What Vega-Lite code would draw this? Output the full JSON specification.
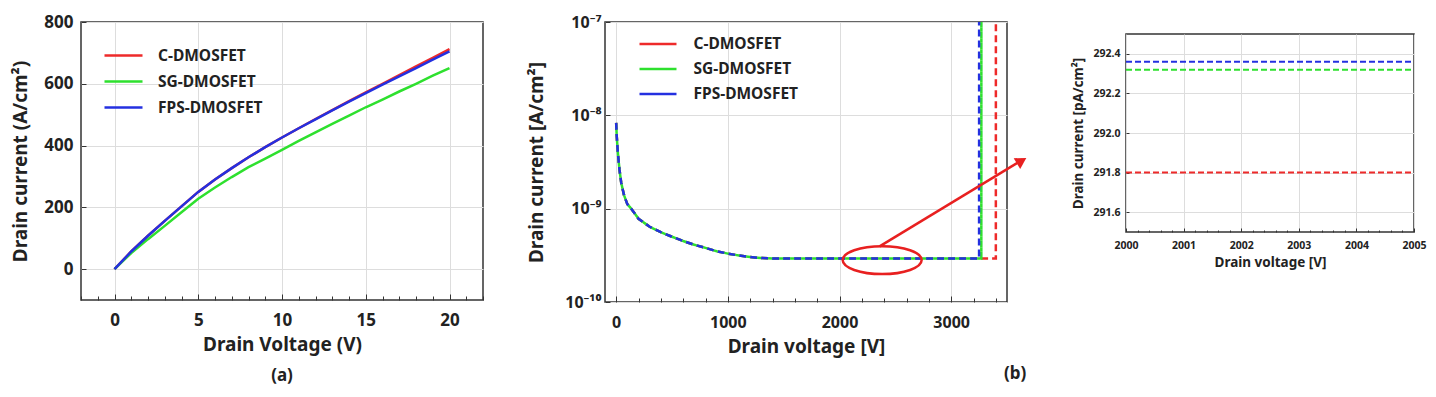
{
  "$schema": "https://vega.github.io/schema/vega-lite/v6.json",
  "padding": {"left": 11, "top": 12, "right": 5, "bottom": 5},
  "background": "white",
  "datasets": {
    "a": [
      {"series": "C-DMOSFET", "V": 0, "I": 0}, {"series": "C-DMOSFET", "V": 1, "I": 57}, {"series": "C-DMOSFET", "V": 2, "I": 108}, {"series": "C-DMOSFET", "V": 3, "I": 156}, {"series": "C-DMOSFET", "V": 4, "I": 203}, {"series": "C-DMOSFET", "V": 5, "I": 250}, {"series": "C-DMOSFET", "V": 6, "I": 290}, {"series": "C-DMOSFET", "V": 7, "I": 327}, {"series": "C-DMOSFET", "V": 8, "I": 362}, {"series": "C-DMOSFET", "V": 9, "I": 395}, {"series": "C-DMOSFET", "V": 10, "I": 426}, {"series": "C-DMOSFET", "V": 11, "I": 456}, {"series": "C-DMOSFET", "V": 12, "I": 486}, {"series": "C-DMOSFET", "V": 13, "I": 515}, {"series": "C-DMOSFET", "V": 14, "I": 544}, {"series": "C-DMOSFET", "V": 15, "I": 572}, {"series": "C-DMOSFET", "V": 16, "I": 600}, {"series": "C-DMOSFET", "V": 17, "I": 628}, {"series": "C-DMOSFET", "V": 18, "I": 656}, {"series": "C-DMOSFET", "V": 19, "I": 684}, {"series": "C-DMOSFET", "V": 20, "I": 712},
      {"series": "SG-DMOSFET", "V": 0, "I": 0}, {"series": "SG-DMOSFET", "V": 1, "I": 52}, {"series": "SG-DMOSFET", "V": 2, "I": 97}, {"series": "SG-DMOSFET", "V": 3, "I": 140}, {"series": "SG-DMOSFET", "V": 4, "I": 184}, {"series": "SG-DMOSFET", "V": 5, "I": 228}, {"series": "SG-DMOSFET", "V": 6, "I": 264}, {"series": "SG-DMOSFET", "V": 7, "I": 298}, {"series": "SG-DMOSFET", "V": 8, "I": 330}, {"series": "SG-DMOSFET", "V": 9, "I": 358}, {"series": "SG-DMOSFET", "V": 10, "I": 386}, {"series": "SG-DMOSFET", "V": 11, "I": 415}, {"series": "SG-DMOSFET", "V": 12, "I": 443}, {"series": "SG-DMOSFET", "V": 13, "I": 470}, {"series": "SG-DMOSFET", "V": 14, "I": 497}, {"series": "SG-DMOSFET", "V": 15, "I": 524}, {"series": "SG-DMOSFET", "V": 16, "I": 549}, {"series": "SG-DMOSFET", "V": 17, "I": 575}, {"series": "SG-DMOSFET", "V": 18, "I": 600}, {"series": "SG-DMOSFET", "V": 19, "I": 626}, {"series": "SG-DMOSFET", "V": 20, "I": 651},
      {"series": "FPS-DMOSFET", "V": 0, "I": 0}, {"series": "FPS-DMOSFET", "V": 1, "I": 57}, {"series": "FPS-DMOSFET", "V": 2, "I": 108}, {"series": "FPS-DMOSFET", "V": 3, "I": 156}, {"series": "FPS-DMOSFET", "V": 4, "I": 203}, {"series": "FPS-DMOSFET", "V": 5, "I": 250}, {"series": "FPS-DMOSFET", "V": 6, "I": 290}, {"series": "FPS-DMOSFET", "V": 7, "I": 327}, {"series": "FPS-DMOSFET", "V": 8, "I": 362}, {"series": "FPS-DMOSFET", "V": 9, "I": 395}, {"series": "FPS-DMOSFET", "V": 10, "I": 426}, {"series": "FPS-DMOSFET", "V": 11, "I": 456}, {"series": "FPS-DMOSFET", "V": 12, "I": 485}, {"series": "FPS-DMOSFET", "V": 13, "I": 514}, {"series": "FPS-DMOSFET", "V": 14, "I": 542}, {"series": "FPS-DMOSFET", "V": 15, "I": 570}, {"series": "FPS-DMOSFET", "V": 16, "I": 597}, {"series": "FPS-DMOSFET", "V": 17, "I": 624}, {"series": "FPS-DMOSFET", "V": 18, "I": 651}, {"series": "FPS-DMOSFET", "V": 19, "I": 678}, {"series": "FPS-DMOSFET", "V": 20, "I": 705}
    ],
    "b": [
      {"series": "C-DMOSFET", "V": 0, "I": 8.3e-9}, {"series": "C-DMOSFET", "V": 5, "I": 6.0e-9}, {"series": "C-DMOSFET", "V": 15, "I": 4.0e-9}, {"series": "C-DMOSFET", "V": 30, "I": 2.6e-9}, {"series": "C-DMOSFET", "V": 45, "I": 1.9e-9}, {"series": "C-DMOSFET", "V": 70, "I": 1.4e-9}, {"series": "C-DMOSFET", "V": 100, "I": 1.12e-9}, {"series": "C-DMOSFET", "V": 135, "I": 1.0e-9}, {"series": "C-DMOSFET", "V": 200, "I": 7.8e-10}, {"series": "C-DMOSFET", "V": 300, "I": 6.4e-10}, {"series": "C-DMOSFET", "V": 400, "I": 5.6e-10}, {"series": "C-DMOSFET", "V": 500, "I": 5.0e-10}, {"series": "C-DMOSFET", "V": 600, "I": 4.5e-10}, {"series": "C-DMOSFET", "V": 700, "I": 4.1e-10}, {"series": "C-DMOSFET", "V": 800, "I": 3.8e-10}, {"series": "C-DMOSFET", "V": 900, "I": 3.5e-10}, {"series": "C-DMOSFET", "V": 1000, "I": 3.3e-10}, {"series": "C-DMOSFET", "V": 1100, "I": 3.15e-10}, {"series": "C-DMOSFET", "V": 1200, "I": 3.03e-10}, {"series": "C-DMOSFET", "V": 1300, "I": 2.96e-10}, {"series": "C-DMOSFET", "V": 1400, "I": 2.93e-10}, {"series": "C-DMOSFET", "V": 1500, "I": 2.918e-10}, {"series": "C-DMOSFET", "V": 2000, "I": 2.918e-10}, {"series": "C-DMOSFET", "V": 2500, "I": 2.918e-10}, {"series": "C-DMOSFET", "V": 3000, "I": 2.918e-10}, {"series": "C-DMOSFET", "V": 3400, "I": 2.918e-10}, {"series": "C-DMOSFET", "V": 3400.5, "I": 1e-7},
      {"series": "SG-DMOSFET", "V": 0, "I": 8.3e-9}, {"series": "SG-DMOSFET", "V": 5, "I": 6.0e-9}, {"series": "SG-DMOSFET", "V": 15, "I": 4.0e-9}, {"series": "SG-DMOSFET", "V": 30, "I": 2.6e-9}, {"series": "SG-DMOSFET", "V": 45, "I": 1.9e-9}, {"series": "SG-DMOSFET", "V": 70, "I": 1.4e-9}, {"series": "SG-DMOSFET", "V": 100, "I": 1.12e-9}, {"series": "SG-DMOSFET", "V": 135, "I": 1.0e-9}, {"series": "SG-DMOSFET", "V": 200, "I": 7.8e-10}, {"series": "SG-DMOSFET", "V": 300, "I": 6.4e-10}, {"series": "SG-DMOSFET", "V": 400, "I": 5.6e-10}, {"series": "SG-DMOSFET", "V": 500, "I": 5.0e-10}, {"series": "SG-DMOSFET", "V": 600, "I": 4.5e-10}, {"series": "SG-DMOSFET", "V": 700, "I": 4.1e-10}, {"series": "SG-DMOSFET", "V": 800, "I": 3.8e-10}, {"series": "SG-DMOSFET", "V": 900, "I": 3.5e-10}, {"series": "SG-DMOSFET", "V": 1000, "I": 3.3e-10}, {"series": "SG-DMOSFET", "V": 1100, "I": 3.15e-10}, {"series": "SG-DMOSFET", "V": 1200, "I": 3.03e-10}, {"series": "SG-DMOSFET", "V": 1300, "I": 2.96e-10}, {"series": "SG-DMOSFET", "V": 1400, "I": 2.93e-10}, {"series": "SG-DMOSFET", "V": 1500, "I": 2.923e-10}, {"series": "SG-DMOSFET", "V": 2000, "I": 2.923e-10}, {"series": "SG-DMOSFET", "V": 2500, "I": 2.923e-10}, {"series": "SG-DMOSFET", "V": 3000, "I": 2.923e-10}, {"series": "SG-DMOSFET", "V": 3270, "I": 2.923e-10}, {"series": "SG-DMOSFET", "V": 3270.5, "I": 1e-7},
      {"series": "FPS-DMOSFET", "V": 0, "I": 8.3e-9}, {"series": "FPS-DMOSFET", "V": 5, "I": 6.0e-9}, {"series": "FPS-DMOSFET", "V": 15, "I": 4.0e-9}, {"series": "FPS-DMOSFET", "V": 30, "I": 2.6e-9}, {"series": "FPS-DMOSFET", "V": 45, "I": 1.9e-9}, {"series": "FPS-DMOSFET", "V": 70, "I": 1.4e-9}, {"series": "FPS-DMOSFET", "V": 100, "I": 1.12e-9}, {"series": "FPS-DMOSFET", "V": 135, "I": 1.0e-9}, {"series": "FPS-DMOSFET", "V": 200, "I": 7.8e-10}, {"series": "FPS-DMOSFET", "V": 300, "I": 6.4e-10}, {"series": "FPS-DMOSFET", "V": 400, "I": 5.6e-10}, {"series": "FPS-DMOSFET", "V": 500, "I": 5.0e-10}, {"series": "FPS-DMOSFET", "V": 600, "I": 4.5e-10}, {"series": "FPS-DMOSFET", "V": 700, "I": 4.1e-10}, {"series": "FPS-DMOSFET", "V": 800, "I": 3.8e-10}, {"series": "FPS-DMOSFET", "V": 900, "I": 3.5e-10}, {"series": "FPS-DMOSFET", "V": 1000, "I": 3.3e-10}, {"series": "FPS-DMOSFET", "V": 1100, "I": 3.15e-10}, {"series": "FPS-DMOSFET", "V": 1200, "I": 3.03e-10}, {"series": "FPS-DMOSFET", "V": 1300, "I": 2.96e-10}, {"series": "FPS-DMOSFET", "V": 1400, "I": 2.93e-10}, {"series": "FPS-DMOSFET", "V": 1500, "I": 2.924e-10}, {"series": "FPS-DMOSFET", "V": 2000, "I": 2.924e-10}, {"series": "FPS-DMOSFET", "V": 2500, "I": 2.924e-10}, {"series": "FPS-DMOSFET", "V": 3000, "I": 2.924e-10}, {"series": "FPS-DMOSFET", "V": 3250, "I": 2.924e-10}, {"series": "FPS-DMOSFET", "V": 3250.5, "I": 1e-7}
    ],
    "ellipse": [{"V": 2382, "I": 2.81e-10}],
    "arrow": [{"V": 2359, "I": 3.94e-10, "V2": 3640, "I2": 3.35e-9}],
    "head": [{"V": 3631, "I": 3.26e-9}],
    "spacer": [{"V": 0}],
    "c": [
      {"series": "C-DMOSFET", "V": 2000, "I": 291.80}, {"series": "C-DMOSFET", "V": 2005, "I": 291.80},
      {"series": "SG-DMOSFET", "V": 2000, "I": 292.32}, {"series": "SG-DMOSFET", "V": 2005, "I": 292.32},
      {"series": "FPS-DMOSFET", "V": 2000, "I": 292.36}, {"series": "FPS-DMOSFET", "V": 2005, "I": 292.36}
    ]
  },
  "hconcat": [
    {
      "width": 402,
      "height": 278,
      "data": {"name": "a"},
      "title": {"text": "(a)", "orient": "bottom", "fontSize": 17, "fontWeight": "bold", "color": "#222", "offset": 14},
      "mark": {"type": "line", "strokeWidth": 2.5, "clip": true},
      "encoding": {
        "x": {
          "field": "V", "type": "quantitative",
          "scale": {"domain": [-2, 22], "nice": false, "zero": false},
          "axis": {
            "title": "Drain Voltage (V)", "titleFontSize": 19, "labelFontSize": 17, "titlePadding": 5,
            "values": [-2, -1, 0, 1, 2, 3, 4, 5, 6, 7, 8, 9, 10, 11, 12, 13, 14, 15, 16, 17, 18, 19, 20, 21, 22],
            "labelExpr": "datum.value % 5 === 0 ? format(datum.value, 'd') : ''",
            "labelOverlap": false, "labelFlush": false,
            "gridOpacity": {"condition": {"test": "datum.value % 5 === 0", "value": 1}, "value": 0},
            "tickSize": {"condition": {"test": "datum.value % 5 === 0", "value": -6}, "value": -4},
            "labelPadding": 18
          }
        },
        "y": {
          "field": "I", "type": "quantitative",
          "scale": {"domain": [-100, 800], "nice": false, "zero": false},
          "axis": {
            "title": "Drain current (A/cm²)", "titleFontSize": 19, "labelFontSize": 17,
            "values": [0, 200, 400, 600, 800], "tickSize": -5, "labelPadding": 13, "titlePadding": 13
          }
        },
        "color": {
          "field": "series", "type": "nominal",
          "scale": {"domain": ["C-DMOSFET", "SG-DMOSFET", "FPS-DMOSFET"], "range": ["#ee2a2a", "#2ee02e", "#2430e0"]},
          "legend": {
            "orient": "none", "legendX": 31.5, "legendY": 22.5, "title": null,
            "labelFontSize": 15.5, "labelFontWeight": "bold", "labelColor": "#222",
            "symbolType": "M-2,0H2", "symbolSize": 361, "symbolStrokeWidth": 2.5,
            "labelOffset": 23.5, "rowPadding": 6, "padding": 0
          }
        }
      }
    },
    {
      "width": 402,
      "height": 280,
      "title": {"text": "(b)", "orient": "bottom", "anchor": "end", "fontSize": 17, "fontWeight": "bold", "color": "#222", "offset": 10},
      "encoding": {
        "x": {
          "field": "V", "type": "quantitative",
          "scale": {"domain": [-100, 3500], "nice": false, "zero": false},
          "axis": {
            "title": "Drain voltage [V]", "titleFontSize": 19, "labelFontSize": 16, "titlePadding": 5,
            "values": [0, 200, 400, 600, 800, 1000, 1200, 1400, 1600, 1800, 2000, 2200, 2400, 2600, 2800, 3000, 3200, 3400],
            "labelExpr": "datum.value % 1000 === 0 ? format(datum.value, 'd') : ''",
            "labelOverlap": false, "labelFlush": false,
            "gridOpacity": {"condition": {"test": "datum.value % 1000 === 0", "value": 1}, "value": 0},
            "tickSize": {"condition": {"test": "datum.value % 1000 === 0", "value": -6}, "value": -4},
            "labelPadding": 18
          }
        },
        "y": {
          "field": "I", "type": "quantitative",
          "scale": {"type": "log", "domain": [1e-10, 1e-7], "nice": false},
          "axis": {
            "title": "Drain current [A/cm²]", "titleFontSize": 19, "labelFontSize": 16,
            "values": [1e-10, 1e-9, 1e-8, 1e-7], "tickSize": -5, "labelPadding": 9, "titlePadding": 18,
            "labelExpr": "'10' + (round(log(datum.value) / LN10) == -7 ? '⁻⁷' : round(log(datum.value) / LN10) == -8 ? '⁻⁸' : round(log(datum.value) / LN10) == -9 ? '⁻⁹' : '⁻¹⁰')"
          }
        }
      },
      "layer": [
        {
          "data": {"name": "b"},
          "mark": {"type": "line", "strokeWidth": 2.5, "strokeDash": [7, 4], "clip": true},
          "encoding": {
            "color": {
              "field": "series", "type": "nominal",
              "scale": {"domain": ["C-DMOSFET", "SG-DMOSFET", "FPS-DMOSFET"], "range": ["#ee2a2a", "#2ee02e", "#2430e0"]},
              "legend": {
                "orient": "none", "legendX": 42.5, "legendY": 11.5, "title": null,
                "labelFontSize": 15.5, "labelFontWeight": "bold", "labelColor": "#222",
                "symbolType": "M-2,0H2", "symbolSize": 342, "symbolStrokeWidth": 2.5, "symbolDash": [1, 0],
                "labelOffset": 25, "rowPadding": 6, "padding": 0
              }
            }
          }
        },
        {
          "data": {"name": "b"},
          "transform": [{"filter": "datum.series === 'SG-DMOSFET'"}],
          "mark": {"type": "line", "strokeWidth": 2.5, "stroke": "#2ee02e", "strokeDash": [4, 7], "strokeDashOffset": 4, "clip": true},
          "encoding": {}
        },
        {
          "data": {"name": "ellipse"},
          "mark": {"type": "point", "shape": "M-1,0C-1,-0.1955 -0.5523,-0.354 0,-0.354C0.5523,-0.354 1,-0.1955 1,0C1,0.1955 0.5523,0.354 0,0.354C-0.5523,0.354 -1,0.1955 -1,0Z", "size": 6241, "filled": false, "stroke": "#e82020", "strokeWidth": 2.5, "opacity": 1, "clip": false},
          "encoding": {}
        },
        {
          "data": {"name": "arrow"},
          "mark": {"type": "rule", "stroke": "#e82020", "strokeWidth": 2.5, "clip": false},
          "encoding": {
            "x2": {"field": "V2"},
            "y2": {"field": "I2"}
          }
        },
        {
          "data": {"name": "head"},
          "mark": {"type": "point", "shape": "triangle-right", "size": 160, "filled": true, "fill": "#e82020", "stroke": null, "opacity": 1, "angle": 329, "clip": false},
          "encoding": {}
        }
      ]
    },
    {
      "spacing": 7,
      "vconcat": [
        {
          "width": 288,
          "height": 1,
          "data": {"name": "spacer"},
          "view": {"stroke": null},
          "mark": {"type": "point", "opacity": 0},
          "encoding": {}
        },
        {
          "width": 288,
          "height": 198,
          "data": {"name": "c"},
          "mark": {"type": "line", "strokeWidth": 2, "strokeDash": [6, 3], "clip": true},
          "encoding": {
            "x": {
              "field": "V", "type": "quantitative",
              "scale": {"domain": [2000, 2005], "nice": false, "zero": false},
              "axis": {
                "title": "Drain voltage [V]", "titleFontSize": 13.5, "labelFontSize": 10.5, "titlePadding": 3,
                "values": [2000, 2000.2, 2000.4, 2000.6, 2000.8, 2001, 2001.2, 2001.4, 2001.6, 2001.8, 2002, 2002.2, 2002.4, 2002.6, 2002.8, 2003, 2003.2, 2003.4, 2003.6, 2003.8, 2004, 2004.2, 2004.4, 2004.6, 2004.8, 2005],
                "labelExpr": "abs(datum.value - round(datum.value)) < 0.001 ? format(datum.value, 'd') : ''",
                "labelOverlap": false, "labelFlush": false,
                "gridOpacity": {"condition": {"test": "abs(datum.value - round(datum.value)) < 0.001", "value": 1}, "value": 0},
                "tickSize": {"condition": {"test": "abs(datum.value - round(datum.value)) < 0.001", "value": -4}, "value": -2},
                "labelPadding": 12
              }
            },
            "y": {
              "field": "I", "type": "quantitative",
              "scale": {"domain": [291.5, 292.5], "nice": false, "zero": false},
              "axis": {
                "title": "Drain current [pA/cm²]", "titleFontSize": 13.5, "labelFontSize": 10.5,
                "values": [291.6, 291.8, 292.0, 292.2, 292.4], "format": ".1f", "tickSize": -3, "labelPadding": 9, "titlePadding": 8
              }
            },
            "color": {
              "field": "series", "type": "nominal",
              "scale": {"domain": ["C-DMOSFET", "SG-DMOSFET", "FPS-DMOSFET"], "range": ["#ee2a2a", "#2ee02e", "#2430e0"]},
              "legend": null
            }
          }
        }
      ]
    }
  ],
  "spacing": 42,
  "resolve": {"scale": {"color": "independent", "x": "independent", "y": "independent"}, "legend": {"color": "independent"}},
  "config": {
    "font": "Noto Sans",
    "view": {"stroke": "#333333", "strokeWidth": 1.5},
    "axis": {
      "domain": false, "labelFontWeight": "bold", "titleFontWeight": "bold",
      "labelColor": "#222222", "titleColor": "#222222", "gridColor": "#dddddd",
      "tickColor": "#333333", "tickWidth": 1
    },
    "title": {"font": "Noto Sans"}
  }
}
